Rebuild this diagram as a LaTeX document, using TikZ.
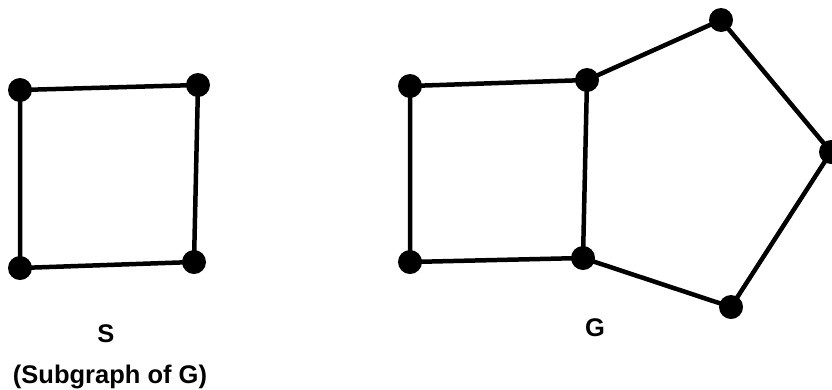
\documentclass[tikz,border=0pt]{standalone}
\usepackage{fontspec}
\setmainfont{Liberation Sans}
\begin{document}
\begin{tikzpicture}[x=1pt,y=-1pt,
  vtx/.style={circle,fill=black,inner sep=0pt,minimum size=24pt},
  edge/.style={line width=4.5pt},
  lbl/.style={font=\fontsize{25.5}{30}\selectfont\bfseries,inner sep=0pt}]
\useasboundingbox (0,0) rectangle (832,389);
% S
\node[vtx] (s1) at (20,90) {};
\node[vtx] (s2) at (198,85) {};
\node[vtx] (s3) at (194,262) {};
\node[vtx] (s4) at (20,268) {};
\draw[edge] (s1.center) -- (s2.center) -- (s3.center) -- (s4.center) -- cycle;
% G
\node[vtx] (g1) at (410,86) {};
\node[vtx] (g2) at (587,80) {};
\node[vtx] (g3) at (721,20) {};
\node[vtx] (g4) at (831,152) {};
\node[vtx] (g5) at (731,307) {};
\node[vtx] (g6) at (583,258) {};
\node[vtx] (g7) at (410,262) {};
\draw[edge] (g1.center) -- (g2.center) -- (g6.center) -- (g7.center) -- cycle;
\draw[edge] (g2.center) -- (g3.center) -- (g4.center) -- (g5.center) -- (g6.center);
% labels
\node[lbl] (ls) at (106,334) {S};
\node[lbl] (lsub) at (110,377) {(Subgraph of G)};
\node[lbl] (lg) at (595,328) {G};
\end{tikzpicture}
\end{document}
